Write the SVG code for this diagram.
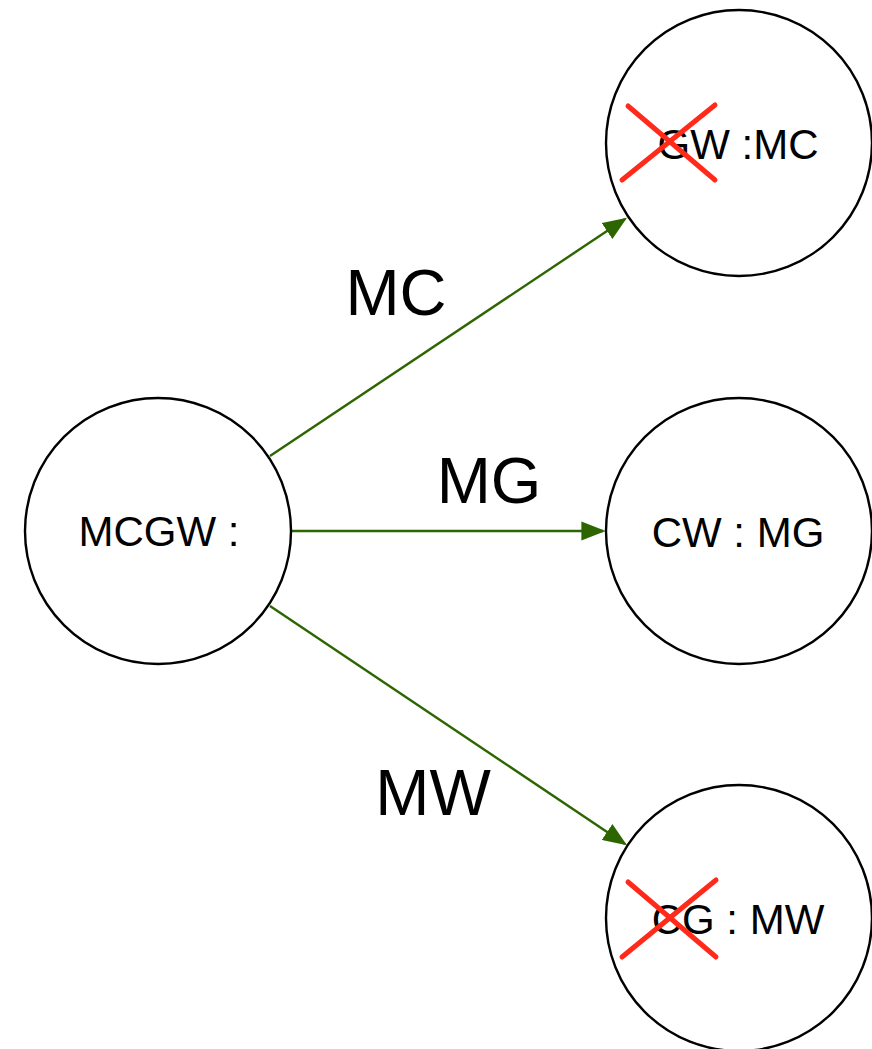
<svg xmlns="http://www.w3.org/2000/svg" width="872" height="1049" viewBox="0 0 872 1049">
<style>
.node{fill:#fff;stroke:#000;stroke-width:2.4}
.nt{font-family:"Liberation Sans",Arial,sans-serif;font-size:42px;fill:#000;text-anchor:middle}
.el{font-family:"Liberation Sans",Arial,sans-serif;font-size:65px;fill:#000;text-anchor:middle}
.edge{stroke:#2d6600;stroke-width:2.4;fill:none}
.x{stroke:#ff2a1a;stroke-width:5;stroke-linecap:round}
</style>
<defs>
<marker id="arr" markerWidth="10" markerHeight="8" refX="9" refY="4" orient="auto" markerUnits="strokeWidth">
<path d="M0,0 L10,4 L0,8 z" fill="#2d6600"/>
</marker>
</defs>
<rect width="872" height="1049" fill="#fff"/>
<g id="connectors">
<line class="edge" x1="270" y1="456" x2="625" y2="219" marker-end="url(#arr)"/>
<line class="edge" x1="292" y1="531" x2="603" y2="531" marker-end="url(#arr)"/>
<line class="edge" x1="270" y1="606" x2="625" y2="844" marker-end="url(#arr)"/>
<text class="el" x="396" y="315">MC</text>
<text class="el" x="489" y="503">MG</text>
<text class="el" x="433" y="815">MW</text>
</g>
<g id="n0">
<circle class="node" cx="158" cy="531" r="133"/>
<text class="nt" x="159" y="546">MCGW :</text>
</g>
<g id="n1">
<circle class="node" cx="739" cy="143" r="133"/>
<text class="nt" x="738" y="159">GW :MC</text>
<line class="x" x1="628" y1="106" x2="715" y2="180"/>
<line class="x" x1="715" y1="105" x2="622" y2="180"/>
</g>
<g id="n2">
<circle class="node" cx="739" cy="531" r="133"/>
<text class="nt" x="738" y="547">CW : MG</text>
</g>
<g id="n3">
<circle class="node" cx="739" cy="918" r="133"/>
<text class="nt" x="738" y="934">CG : MW</text>
<line class="x" x1="628" y1="882" x2="716" y2="957"/>
<line class="x" x1="716" y1="880" x2="622" y2="957"/>
</g>
</svg>
